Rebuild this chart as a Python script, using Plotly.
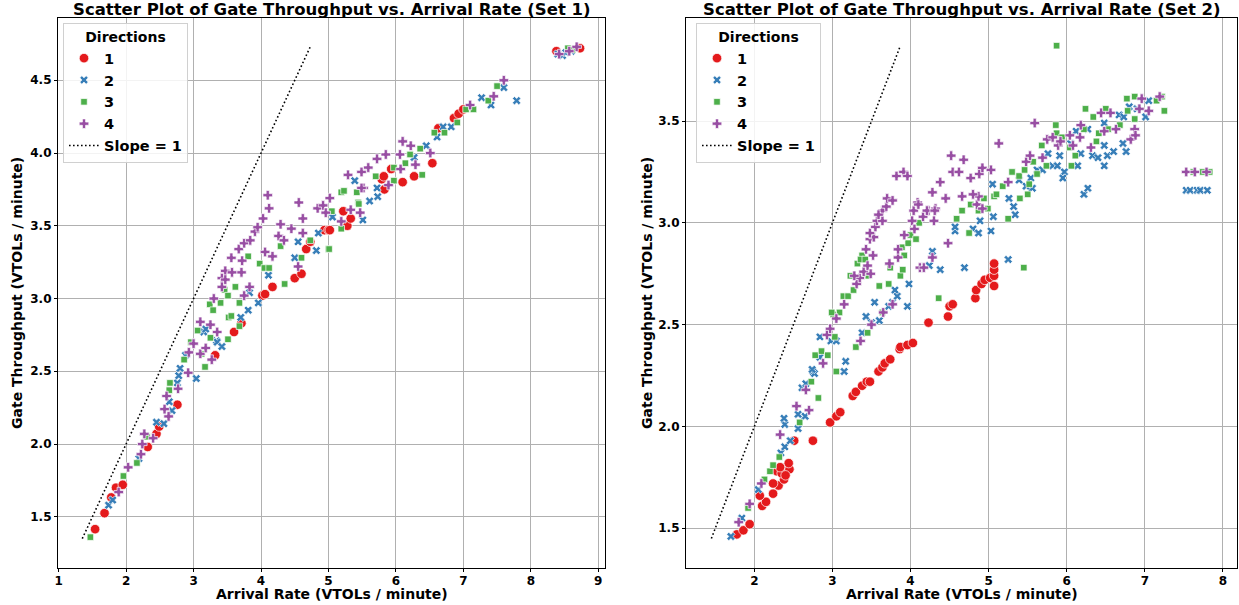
import plotly.graph_objects as go

# ---------------- data ----------------
directions = ["1", "2", "3", "4"]
colors = ["#e41a1c", "#377eb8", "#4daf4a", "#984ea3"]
symbols = ["circle", "x", "square", "cross"]
sizes = [9.5, 7.5, 6.5, 8]

# Set 1: (arrival rate, gate throughput)
set1_dir1 = [(1.54, 1.415), (1.68, 1.525), (1.78, 1.633), (1.85, 1.70), (1.95, 1.72), (2.32, 1.98),
             (2.45, 2.07), (2.49, 2.12), (2.76, 2.27), (3.32, 2.61), (3.60, 2.77), (3.71, 2.83),
             (4.02, 3.02), (4.06, 3.03), (4.17, 3.08), (4.50, 3.14), (4.60, 3.17), (4.67, 3.34),
             (4.73, 3.39), (4.94, 3.47), (5.00, 3.47), (5.02, 3.47), (5.22, 3.60), (5.28, 3.50),
             (5.33, 3.55), (5.79, 3.82), (5.82, 3.84), (5.83, 3.75), (5.93, 3.89), (6.10, 3.80),
             (6.27, 3.84), (6.54, 3.93), (6.63, 4.17), (6.86, 4.24), (6.93, 4.27), (7.00, 4.30),
             (8.38, 4.70), (8.73, 4.72)]
set1_dir2 = [(1.74, 1.58), (1.80, 1.615), (2.19, 1.90), (2.45, 2.15), (2.56, 2.14), (2.64, 2.29),
             (2.68, 2.23), (2.76, 2.42), (2.78, 2.47), (2.80, 2.52), (2.88, 2.61), (3.04, 2.45),
             (3.15, 2.77), (3.18, 2.79), (3.34, 2.71), (3.35, 2.70), (3.42, 2.67), (3.70, 2.87),
             (3.81, 2.92), (3.83, 3.04), (3.96, 2.97), (4.11, 3.16), (4.50, 3.28), (4.55, 3.39),
             (4.82, 3.33), (4.85, 3.45), (5.06, 3.56), (5.39, 3.81), (5.51, 3.54), (5.61, 3.67),
             (5.72, 3.76), (5.73, 3.70), (6.27, 3.97), (6.45, 4.05), (6.61, 4.11), (6.70, 4.18),
             (6.82, 4.18), (7.27, 4.38), (7.41, 4.33), (7.60, 4.45), (7.79, 4.36),
             (8.40, 4.68), (8.47, 4.67), (8.52, 4.69), (8.60, 4.70)]
set1_dir3 = [(1.47, 1.36), (1.96, 1.78), (2.16, 1.87), (2.31, 2.05), (2.64, 2.37), (2.65, 2.42),
             (2.86, 2.58), (2.96, 2.70), (3.06, 2.78), (3.12, 2.62), (3.17, 2.53), (3.24, 2.96),
             (3.25, 2.73), (3.29, 2.92), (3.40, 2.97), (3.46, 3.06), (3.51, 3.02), (3.51, 2.72),
             (3.52, 2.87), (3.56, 2.88), (3.62, 3.08), (3.68, 2.97), (3.68, 2.81), (3.81, 3.29),
             (3.98, 3.24), (4.05, 3.21), (4.12, 3.21), (4.29, 3.36), (4.35, 3.10), (4.60, 3.28),
             (4.73, 3.40), (5.00, 3.34), (5.01, 3.34), (5.05, 3.60), (5.19, 3.73), (5.19, 3.48),
             (5.23, 3.74), (5.42, 3.73), (5.44, 3.66), (5.45, 3.65), (5.70, 3.84), (5.97, 3.90),
             (5.97, 3.81), (6.14, 3.93), (6.21, 3.99), (6.36, 4.03), (6.39, 3.85), (6.57, 4.14),
             (6.72, 4.14), (6.91, 4.21), (7.04, 4.30), (7.15, 4.30), (7.37, 4.36), (7.50, 4.46),
             (8.55, 4.72), (8.62, 4.71)]
set1_dir4 = [(1.89, 1.67), (2.03, 1.84), (2.22, 1.93), (2.24, 2.00), (2.27, 2.07), (2.40, 2.04),
             (2.57, 2.24), (2.60, 2.33), (2.63, 2.19), (2.77, 2.38), (2.92, 2.49), (2.93, 2.63),
             (3.00, 2.69), (3.10, 2.62), (3.18, 2.66), (3.27, 2.58), (3.35, 2.77), (3.10, 2.84),
             (3.25, 2.82), (3.30, 3.00), (3.42, 3.14), (3.47, 3.19), (3.56, 3.28), (3.67, 3.34),
             (3.75, 3.38), (3.84, 3.40), (3.91, 3.46), (3.95, 3.49), (4.03, 3.55), (4.10, 3.71),
             (4.12, 3.62), (3.72, 3.26), (3.71, 3.18), (3.57, 3.18), (3.47, 3.13), (3.42, 3.08),
             (3.83, 3.08), (3.75, 3.02), (4.06, 3.32), (4.17, 3.29), (4.26, 3.43), (4.34, 3.40),
             (4.45, 3.48), (4.56, 3.66), (4.62, 3.55), (4.62, 3.45), (4.55, 3.22), (4.29, 3.51),
             (4.84, 3.62), (4.92, 3.64), (4.96, 3.59), (5.02, 3.69), (5.19, 3.53), (5.33, 3.61),
             (5.47, 3.59), (5.52, 3.76), (5.29, 3.85), (5.49, 3.87), (5.59, 3.90), (5.72, 3.96),
             (5.85, 3.99), (6.06, 3.99), (6.07, 3.89), (6.10, 4.08), (6.22, 4.05), (6.29, 3.92),
             (6.51, 4.00), (5.49, 3.76), (5.89, 3.78), (7.10, 4.33), (7.45, 4.39), (7.60, 4.50),
             (8.42, 4.68), (8.57, 4.70), (8.68, 4.73)]

# Set 2
set2_dir1 = [(1.775, 1.47), (1.86, 1.49), (1.94, 1.52), (2.10, 1.61), (2.15, 1.63), (2.07, 1.66),
             (2.24, 1.67), (2.31, 1.71), (2.38, 1.74), (2.24, 1.72), (2.29, 1.78), (2.35, 1.77),
             (2.45, 1.79), (2.44, 1.82), (2.33, 1.80), (2.40, 1.76), (2.75, 1.93), (2.51, 1.93),
             (2.97, 2.02), (3.05, 2.05), (3.10, 2.07), (3.26, 2.15), (3.30, 2.17), (3.38, 2.20),
             (3.44, 2.22), (3.48, 2.22), (3.59, 2.27), (3.64, 2.29), (3.67, 2.31), (3.74, 2.33),
             (3.86, 2.38), (3.87, 2.39), (3.96, 2.40), (4.03, 2.41), (4.23, 2.51), (4.48, 2.54),
             (4.50, 2.59), (4.54, 2.60), (4.83, 2.63), (4.84, 2.67), (4.91, 2.70), (4.95, 2.72),
             (5.02, 2.73), (5.07, 2.74), (5.07, 2.69), (5.07, 2.77), (5.07, 2.80)]
set2_dir2 = [(1.70, 1.46), (1.84, 1.55), (2.05, 1.69), (2.34, 1.87), (2.39, 1.90), (2.46, 1.93),
             (2.39, 2.01), (2.38, 2.04), (2.56, 1.99), (2.65, 2.05), (2.56, 2.06), (2.61, 2.19),
             (2.66, 2.21), (2.75, 2.27), (2.77, 2.26), (2.74, 2.28), (2.84, 2.34), (2.84, 2.44),
             (2.98, 2.42), (3.05, 2.42), (3.15, 2.27), (3.17, 2.32), (3.38, 2.46), (3.43, 2.54),
             (3.50, 2.51), (3.54, 2.61), (3.60, 2.52), (3.72, 2.59), (3.77, 2.61), (3.83, 2.64),
             (3.80, 2.67), (3.96, 2.59), (3.98, 2.70), (4.24, 2.79), (4.28, 2.86), (4.38, 2.77),
             (4.69, 2.78), (4.57, 2.96), (4.57, 2.98), (4.80, 2.97), (4.87, 2.95), (4.89, 3.01),
             (5.03, 2.96), (5.06, 3.03), (5.05, 3.19), (5.25, 2.82), (5.26, 3.12), (5.32, 3.08),
             (5.34, 3.04), (5.39, 3.21), (5.48, 3.18), (5.54, 3.22), (5.56, 3.17), (5.62, 3.26),
             (5.69, 3.26), (5.76, 3.34), (5.82, 3.28), (5.88, 3.28), (5.91, 3.33), (5.97, 3.25),
             (5.95, 3.22), (6.05, 3.39), (6.12, 3.45), (6.14, 3.28), (6.18, 3.34), (6.22, 3.14),
             (6.27, 3.17), (6.27, 3.46), (6.33, 3.33), (6.40, 3.32), (6.48, 3.28), (6.48, 3.38),
             (6.52, 3.33), (6.48, 3.49), (6.60, 3.35), (6.67, 3.53), (6.73, 3.52), (6.72, 3.39),
             (6.76, 3.35), (6.80, 3.57), (6.90, 3.56), (7.01, 3.52), (7.05, 3.60),
             (7.53, 3.16), (7.58, 3.16), (7.67, 3.16), (7.71, 3.16), (7.80, 3.16)]
set2_dir3 = [(1.92, 1.60), (2.13, 1.74), (2.20, 1.78), (2.24, 1.81), (2.32, 1.85), (2.58, 2.02),
             (2.82, 2.14), (2.73, 2.22), (2.78, 2.35), (2.86, 2.37), (2.94, 2.35), (3.05, 2.27),
             (3.09, 2.56), (3.01, 2.55), (3.03, 2.44), (3.30, 2.39), (3.45, 2.46), (3.64, 2.56),
             (2.99, 2.56), (3.14, 2.64), (3.20, 2.64), (3.27, 2.67), (3.32, 2.80), (3.38, 2.84),
             (3.36, 2.82), (3.42, 2.82), (3.23, 2.74), (3.46, 2.74), (3.60, 2.69), (3.72, 2.70),
             (3.74, 2.78), (3.87, 2.74), (3.90, 2.77), (3.92, 2.84), (3.89, 2.88), (3.97, 2.90),
             (4.00, 2.94), (4.07, 2.92), (4.11, 3.00), (4.36, 2.63), (4.59, 3.02), (4.66, 3.06),
             (4.75, 2.95), (4.77, 3.09), (4.87, 3.06), (4.94, 3.12), (4.99, 3.07), (5.07, 3.13),
             (5.10, 3.14), (5.18, 3.18), (5.25, 3.02), (5.30, 3.25), (5.39, 3.23), (5.40, 3.12),
             (5.45, 2.78), (5.46, 3.26), (5.52, 3.19), (5.50, 3.14), (5.57, 3.30), (5.62, 3.24),
             (5.68, 3.38), (5.74, 3.28), (5.86, 3.48), (5.87, 3.44), (5.94, 3.42), (6.04, 3.37),
             (6.06, 3.28), (6.11, 3.33), (6.22, 3.46), (6.24, 3.56), (6.34, 3.52), (6.38, 3.40),
             (6.41, 3.44), (6.50, 3.56), (6.53, 3.46), (6.68, 3.48), (6.77, 3.61), (6.78, 3.55),
             (6.87, 3.51), (6.87, 3.62), (7.15, 3.60), (7.22, 3.62), (7.25, 3.55), (5.87, 3.87),
             (7.62, 3.25), (7.74, 3.25), (7.83, 3.25)]
set2_dir4 = [(1.80, 1.53), (1.94, 1.62), (2.09, 1.72), (2.33, 1.96), (2.54, 2.10), (2.70, 2.08),
             (2.66, 2.18), (2.88, 2.31), (2.93, 2.45), (2.97, 2.48), (3.05, 2.53), (3.15, 2.60),
             (3.36, 2.42), (3.50, 2.50), (3.65, 2.56), (3.77, 2.60), (3.31, 2.70), (3.35, 2.73),
             (3.28, 2.74), (3.40, 2.76), (3.45, 2.79), (3.49, 2.75), (3.43, 2.87), (3.52, 2.84),
             (3.48, 2.92), (3.53, 2.93), (3.48, 2.95), (3.55, 2.98), (3.57, 3.01), (3.64, 3.01),
             (3.64, 3.06), (3.69, 3.08), (3.70, 3.12), (3.77, 3.11), (3.59, 3.04), (3.73, 2.80),
             (3.84, 2.83), (3.84, 2.87), (3.92, 2.94), (4.02, 3.01), (4.05, 2.97), (4.04, 3.06),
             (4.09, 3.10), (4.16, 3.03), (4.23, 3.06), (4.32, 3.07), (4.30, 3.01), (4.28, 3.15),
             (4.38, 3.20), (4.45, 3.12), (4.48, 2.90), (4.12, 2.78), (4.17, 2.78), (4.28, 2.83),
             (3.82, 3.23), (3.91, 3.25), (3.96, 3.23), (4.52, 3.33), (4.68, 3.31), (4.54, 3.25),
             (4.62, 3.25), (4.77, 3.22), (4.88, 3.24), (4.92, 3.27), (5.03, 3.26), (4.66, 3.13),
             (4.85, 3.09), (4.92, 3.07), (4.87, 3.13), (4.80, 3.14), (5.13, 3.39), (5.59, 3.49),
             (5.25, 3.20), (5.48, 3.30), (5.53, 3.33), (5.69, 3.32), (5.75, 3.41), (5.82, 3.42),
             (5.89, 3.38), (5.92, 3.40), (6.04, 3.43), (6.08, 3.38), (6.17, 3.42), (6.18, 3.48),
             (6.31, 3.37), (6.44, 3.54), (6.48, 3.45), (6.56, 3.54), (6.63, 3.46), (6.82, 3.41),
             (6.87, 3.46), (6.88, 3.43), (6.96, 3.61), (7.05, 3.55), (6.93, 3.56), (7.19, 3.62),
             (4.10, 3.09), (4.21, 3.06), (4.31, 3.06),
             (7.53, 3.25), (7.64, 3.25), (7.79, 3.25)]

# reference line y = x, from min to max throughput
slope_set1 = [1.35, 4.74]
slope_set2 = [1.45, 3.87]

titles = ["Scatter Plot of Gate Throughput vs. Arrival Rate (Set 1)",
          "Scatter Plot of Gate Throughput vs. Arrival Rate (Set 2)"]
x_label = "Arrival Rate (VTOLs / minute)"
y_label = "Gate Throughput (VTOLs / minute)"

# ---------------- figure ----------------
FONT = "DejaVu Sans"
fig = go.Figure()

sets = [([set1_dir1, set1_dir2, set1_dir3, set1_dir4], slope_set1, "x", "y", "legend"),
        ([set2_dir1, set2_dir2, set2_dir3, set2_dir4], slope_set2, "x2", "y2", "legend2")]

for series, slope, xa, ya, leg in sets:
    for i, pts in enumerate(series):
        fig.add_trace(go.Scatter(
            x=[p[0] for p in pts], y=[p[1] for p in pts],
            mode="markers", name=directions[i], xaxis=xa, yaxis=ya, legend=leg,
            marker=dict(symbol=symbols[i], size=sizes[i], color=colors[i],
                        line=dict(color="white", width=0.7)),
        ))
    fig.add_trace(go.Scatter(
        x=slope, y=slope, mode="lines", name="Slope = 1", xaxis=xa, yaxis=ya, legend=leg,
        line=dict(color="black", width=1.6, dash="1.6px,2.4px"),
    ))

W, H = 1239, 605
ml, mr, mt, mb = 58, 2, 18, 37
pw = W - ml - mr
ph = H - mt - mb
d1 = [0, (605 - 58) / pw]
d2 = [(686 - 58) / pw, 1]

axis_common = dict(showline=True, linecolor="black", linewidth=1.2, mirror=True,
                   showgrid=True, gridcolor="#b0b0b0", gridwidth=1, zeroline=False,
                   ticks="outside", ticklen=3, tickcolor="black", automargin=False,
                   tickfont=dict(family=FONT, size=12, color="black", weight="bold"))
title_font = dict(family=FONT, size=14, color="black", weight="bold")

fig.update_layout(
    width=W, height=H,
    margin=dict(l=ml, r=mr, t=mt, b=mb),
    plot_bgcolor="white", paper_bgcolor="white",
    xaxis=dict(domain=d1, range=[0.99, 9.1], tickvals=[1, 2, 3, 4, 5, 6, 7, 8, 9],
               anchor="y", ticklabelstandoff=-2, **axis_common),
    yaxis=dict(domain=[0, 1], range=[1.148, 4.928], tickvals=[1.5, 2.0, 2.5, 3.0, 3.5, 4.0, 4.5],
               ticktext=["1.5", "2.0", "2.5", "3.0", "3.5", "4.0", "4.5"], anchor="x", **axis_common),
    xaxis2=dict(domain=d2, range=[1.125, 8.18], tickvals=[2, 3, 4, 5, 6, 7, 8],
                anchor="y2", ticklabelstandoff=-2, **axis_common),
    yaxis2=dict(domain=[0, 1], range=[1.305, 4.006], tickvals=[1.5, 2.0, 2.5, 3.0, 3.5],
                ticktext=["1.5", "2.0", "2.5", "3.0", "3.5"], anchor="x2", **axis_common),
    showlegend=True,
)

legend_common = dict(xanchor="left", yanchor="top", bgcolor="rgba(255,255,255,0.85)",
                     bordercolor="#d0d0d0", borderwidth=1,
                     font=dict(family=FONT, size=14.5, color="black", weight="bold"),
                     title=dict(text="Directions", side="top center",
                                font=dict(family=FONT, size=14, color="black", weight="bold")),
                     tracegroupgap=0, itemwidth=30)
fig.update_layout(
    legend=dict(x=(63 - ml) / pw, y=1 - (23 - mt) / ph, **legend_common),
    legend2=dict(x=(696 - ml) / pw, y=1 - (23 - mt) / ph, **legend_common),
)

for t, d in zip(titles, [d1, d2]):
    cx = (d[0] + d[1]) / 2
    fig.add_annotation(text=t, xref="paper", yref="paper", x=cx, y=1,
                       xanchor="center", yanchor="bottom", yshift=-3, showarrow=False,
                       font=dict(family=FONT, size=16.5, color="black", weight="bold"))
    # x-axis title
    fig.add_annotation(text=x_label, xref="paper", yref="paper", x=cx, y=-(594 - 568) / ph,
                       xanchor="center", yanchor="middle", showarrow=False, borderpad=0,
                       font=title_font)

# y-axis titles
for px in (17, 647):
    fig.add_annotation(text=y_label, xref="paper", yref="paper", x=(px - ml) / pw, y=0.5,
                       xanchor="center", yanchor="middle", textangle=-90, showarrow=False,
                       font=title_font)

# remove the default page margin so the figure sits at the window origin
fig.write_html("out.html", config={"displayModeBar": False},
               post_script="document.body.style.margin='0px';document.body.style.overflow='hidden';")
